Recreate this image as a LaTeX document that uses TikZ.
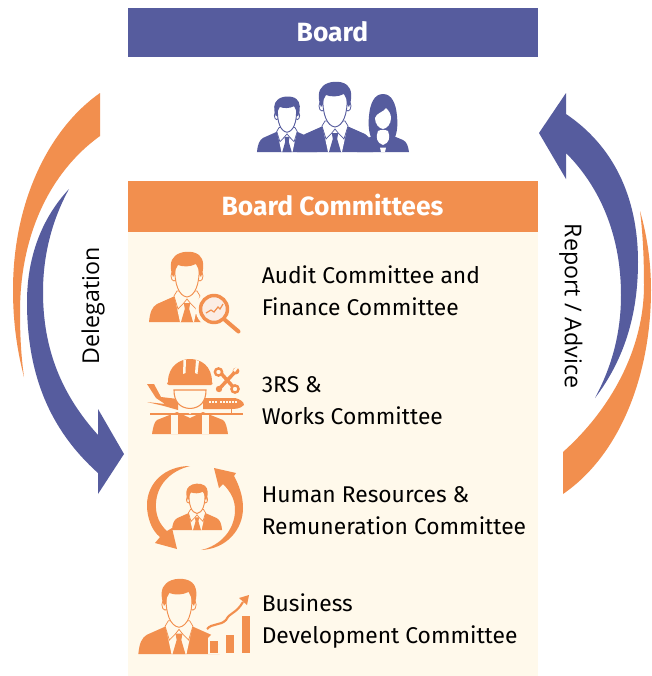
\documentclass[tikz,border=0pt]{standalone}
\usepackage{fontspec}
\setmainfont{Fira Sans}
\newfontfamily\rotfont{Open Sans}
\definecolor{bluec}{HTML}{565C9E}
\definecolor{orangec}{HTML}{F28F4E}
\definecolor{creamc}{HTML}{FFF9EB}
\definecolor{paleo}{HTML}{FBEDE4}
\colorlet{fgc}{orangec}
\colorlet{bgc}{creamc}
\tikzset{
  banner/.style={text=white,font=\fontsize{19.8pt}{22pt}\selectfont\bfseries,inner sep=0pt},
  itemtext/.style={anchor=west,align=left,inner sep=0pt,text=black,font=\fontsize{17.1pt}{23.7pt}\selectfont},
  sidetext/.style={inner sep=0pt,text=black,font=\rotfont\fontsize{17.4pt}{20pt}\selectfont},
  pics/person/.style={code={
    % suit
    \fill[fgc] (-38,0) .. controls (-37,-10) and (-35,-15) .. (-30,-18) -- (-12,-26) -- (12,-26) -- (30,-18) .. controls (35,-15) and (37,-10) .. (38,0) -- cycle;
    % shirt and collar
    \fill[bgc] (-13,-28) -- (-7,0) -- (7,0) -- (13,-28) -- cycle;
    \draw[fgc,line width=.55pt,fill=bgc] (-10,-31) -- (-13,-26) -- (-9,-13) -- (-3.2,-19) -- (0,-23) -- (3.2,-19) -- (9,-13) -- (13,-26) -- (10,-31) -- cycle;
    \fill[fgc] (-3.2,-19) -- (3.2,-19) -- (2.2,-13) -- (6,0) -- (-6,0) -- (-2.2,-13) -- cycle;
    % ears
    \draw[fgc,line width=.6pt,fill=bgc] (-13,-46) ellipse (3 and 5);
    \draw[fgc,line width=.6pt,fill=bgc] (13,-46) ellipse (3 and 5);
    % face
    \draw[fgc,line width=.7pt,fill=bgc] (-12,-56) .. controls (-13,-38) and (-8,-26) .. (0,-25) .. controls (8,-26) and (13,-38) .. (12,-56) .. controls (6,-64) and (-6,-64) .. (-12,-56) -- cycle;
    % hair
    \fill[fgc] (-14,-45) .. controls (-17.5,-54) and (-17,-62) .. (-12,-66) .. controls (-7,-71) and (6,-72) .. (12,-67) .. controls (17,-63) and (17.5,-54) .. (14,-45) -- (12.3,-47) .. controls (12,-52) and (11,-55) .. (9,-58) .. controls (3,-55) and (-4,-55) .. (-9,-57) .. controls (-11,-54) and (-12,-52) .. (-12.3,-47) -- cycle;
  }},
  pics/woman/.style={code={
    \fill[fgc] (-26,0) .. controls (-25,-6) and (-24,-10) .. (-20,-12) -- (-8,-17) -- (8,-17) -- (20,-12) .. controls (24,-10) and (25,-6) .. (26,0) -- cycle;
    \fill[fgc] (0,-58) .. controls (-9,-58) and (-13,-48) .. (-14,-36) .. controls (-15,-26) and (-14,-16) .. (-10,-12) -- (10,-12) .. controls (14,-16) and (15,-26) .. (14,-36) .. controls (13,-48) and (9,-58) .. (0,-58) -- cycle;
    \fill[bgc] (-5,-21) .. controls (-7.5,-15) and (-6.5,-9) .. (0,-7) .. controls (6.5,-9) and (7.5,-15) .. (5,-21) .. controls (2,-22.5) and (-2,-22.5) .. (-5,-21) -- cycle;
    \fill[bgc] (-8,-34) .. controls (-8,-28) and (-4,-23.5) .. (0,-23) .. controls (4,-23.5) and (8,-28) .. (8,-34) .. controls (8,-38) and (6,-41) .. (3,-44) .. controls (1,-40) and (-7,-39) .. (-8,-34) -- cycle;
    \fill[bgc] (-3,-4.5) -- (3,-4.5) -- (2,0) -- (-2,0) -- cycle;
  }},
}
\begin{document}
\begin{tikzpicture}[x=0.75pt,y=-0.75pt]
\path[use as bounding box,fill=white] (0,0) rectangle (652,676);

% panels
\fill[creamc] (128,232) rectangle (538,676);
\fill[bluec] (128,7.5) rectangle (538,57);
\fill[orangec] (128,181) rectangle (538,232);
\node[banner] (board) at (332.5,32) {Board};
\node[banner] (committees) at (332.5,205.5) {Board Committees};

% side arrows
\fill[orangec] (100,93) .. controls (50,128) and (13,200) .. (13,290) .. controls (13,322) and (17,350) .. (24,377) .. controls (21,355) and (20,335) .. (20,312) .. controls (20,235) and (50,172) .. (100,136) -- cycle;
\fill[bluec] (69,189) .. controls (40,220) and (27,260) .. (27,302) .. controls (27,375) and (50,430) .. (98,473) -- (98,494) -- (124,454) -- (98,409) -- (98,435) .. controls (62,395) and (43,350) .. (43,292) .. controls (43,255) and (52,220) .. (69,189) -- cycle;
\fill[bluec] (566,93) -- (539,133) -- (566,179) -- (566,153) .. controls (603,190) and (621,240) .. (621,295) .. controls (621,335) and (611,368) .. (595,398) .. controls (624,360) and (638,315) .. (638,262) .. controls (638,195) and (612,145) .. (566,114) -- cycle;
\fill[orangec] (640,211) .. controls (643,235) and (644,260) .. (644,285) .. controls (644,350) and (610,410) .. (563,452) -- (563,494) .. controls (620,455) and (651,375) .. (651,290) .. controls (651,262) and (647,235) .. (640,211) -- cycle;
\node[sidetext,rotate=90] (delegation) at (93,306) {Delegation};
\node[sidetext,rotate=-90] (report) at (571,306) {Report / Advice};

% board people
\begin{scope}
\colorlet{fgc}{bluec}\colorlet{bgc}{white}
\pic[scale=.79] at (287,152) {person};
\pic[scale=1] at (383,152) {woman};
\pic[scale=1] at (335,152) {person};
\end{scope}

% item texts
\node[itemtext] (audit) at (261.5,291) {Audit Committee and\\Finance Committee};
\node[itemtext] (works) at (261.5,400.5) {3RS \&\\Works Committee};
\node[itemtext] (hr) at (261.5,510.5) {Human Resources \&\\Remuneration Committee};
\node[itemtext] (bd) at (261.5,621) {Business\\Development Committee};

% audit icon
\pic at (187,322) {person};
\fill[creamc] (214,309) circle (18.5);
\draw[orangec,line width=3pt,line cap=round] (225,320) -- (238.5,331.5);
\draw[orangec,line width=2.6pt,fill=paleo] (214,309) circle (13.5);
\draw[orangec,line width=.9pt] (206,313) -- (211,310) -- (214,312) -- (218,307) -- (220,309) -- (223,304);

% works icon
\fill[orangec] (152,434) .. controls (153,428) and (154,422) .. (157,420) -- (177,412) -- (190,418) -- (203,412) -- (223,420) .. controls (226,422) and (227,428) .. (228,434) -- cycle;
\fill[creamc] (171,414) rectangle (178,434);
\fill[creamc] (202,414) rectangle (209,434);
\draw[orangec,line width=.8pt] (150,414) -- (243,414);
% planes
\fill[orangec] (147,384) -- (154,384) -- (161,397) -- (178,399) -- (178,410) -- (164,406) -- (147,402) -- (165,404) -- (156,398) -- cycle;
\fill[orangec] (203,398) -- (235,398) .. controls (240,399) and (244,402) .. (244,405) .. controls (240,409) and (235,409) .. (230,409) -- (203,409) -- cycle;
\foreach \wx in {209,212,215,220,223,226,229,232,235}
  \fill[creamc] (\wx,400.5) rectangle +(2,2);
\draw[orangec,line width=.7pt] (231,409) -- (231,414);
% hard hat and face
\draw[orangec,line width=.8pt,fill=creamc] (174,390) .. controls (174,402) and (180,408) .. (190,408.5) .. controls (200,408) and (206,402) .. (206,390) -- cycle;
\fill[creamc] (183,409) -- (190,414) -- (197,409) -- cycle;
\fill[orangec] (168,382) .. controls (168,366) and (180,359) .. (190,359) .. controls (201,359) and (212,366) .. (212,382) .. controls (214,383) and (212,385) .. (211,385) -- (169,385) .. controls (167,385) and (166,383) .. (168,382) -- cycle;
\fill[creamc] (183.5,360) -- (186,360) -- (185.5,373) -- (183,374) -- cycle;
\fill[creamc] (196,360) -- (199,361) -- (197.5,374) -- (195,373) -- cycle;
% wrench
\draw[orangec,line width=2.6pt] (219,371) -- (235,389);
\draw[orangec,line width=2.6pt] (219,389) -- (236,371);
\draw[orangec,line width=1.8pt,fill=creamc] (218.5,372) circle (3.6);
\draw[orangec,line width=1.8pt,fill=creamc] (235,389) circle (3.6);
\fill[orangec] (219,389) circle (3.2);
\fill[orangec] (236,371) circle (3.4);
\fill[creamc] (238,368) -- (235,372) -- (233,370) -- (236,367) -- cycle;

% HR icon
\pic[scale=.66] at (197,530) {person};
\fill[orangec] (190,466) .. controls (165,466) and (147,483) .. (147,505) .. controls (147,518) and (152,531) .. (160,537) -- (155,543) -- (177,549) -- (172,528) -- (167,531) .. controls (160,525) and (155,515) .. (156,503) .. controls (157,485) and (170,471) .. (190,466) -- cycle;
\fill[orangec] (201,550) .. controls (226,549) and (243,530) .. (243,508) .. controls (243,496) and (239,485) .. (234,476) -- (236,473) -- (214,468) -- (219,488) -- (223,484) .. controls (231,492) and (235,500) .. (235,510) .. controls (235,530) and (220,546) .. (201,550) -- cycle;

% BD icon
\pic[scale=1.07] at (179,654) {person};
\fill[creamc] (208,654) -- (208,638) -- (214,632) -- (222,654) -- cycle;
\fill[orangec] (210,641) rectangle (217.5,653);
\fill[orangec] (226,635) rectangle (233.5,653);
\fill[orangec] (242,616) rectangle (249.5,653);
\draw[orangec,line width=1.6pt] (207,629) .. controls (212,623) and (220,626) .. (226,620) .. controls (230,612) and (236,614) .. (243,602);
\fill[orangec] (249,595) -- (239,598) -- (247,605) -- cycle;
\end{tikzpicture}
\end{document}
